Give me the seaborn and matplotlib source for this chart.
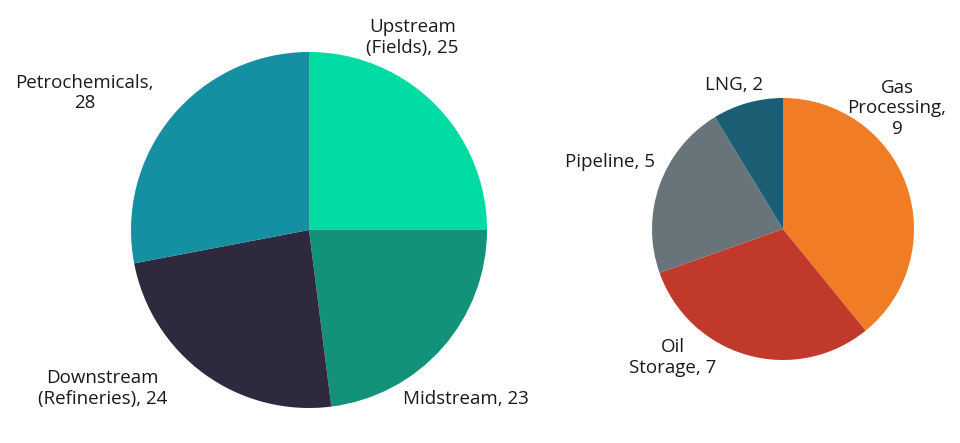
import seaborn as sns
import matplotlib.pyplot as plt

sns.set_theme(style='white')
plt.rcParams['font.family'] = ['Open Sans', 'DejaVu Sans']
plt.rcParams['font.size'] = 13.5

# left pie: oil & gas value chain
segments = ['Upstream\n(Fields)', 'Midstream', 'Downstream\n(Refineries)', 'Petrochemicals,\n']
segment_values = [25, 23, 24, 28]
segment_colors = ['#00DBA3', '#129279', '#2E293D', '#1490A2']

# right pie: midstream breakdown
mid_parts = ['Gas\nProcessing,\n', 'Oil\nStorage', 'Pipeline', 'LNG']
mid_values = [9, 7, 5, 2]
mid_colors = ['#F07C25', '#C1392B', '#69737A', '#1B5E73']

# label anchor positions (axes units, radius = 1)
left_label_pos = [(0.58, 1.08), (0.88, -0.95), (-1.16, -0.89), (-1.26, 0.77)]
right_label_pos = [(0.87, 0.92), (-0.84, -0.98), (-1.32, 0.51), (-0.37, 1.10)]

W, H = 960, 443
fig = plt.figure(figsize=(9.6, 4.43), dpi=100)


def draw_pie(cx, cy, r, names, values, colors, label_pos):
    ax = fig.add_axes([(cx - r) / W, (H - cy - r) / H, 2 * r / W, 2 * r / H])
    ax.pie(values, colors=sns.color_palette(colors), startangle=90,
           counterclock=False, radius=1,
           wedgeprops={'linewidth': 0})
    for name, v, (x, y) in zip(names, values, label_pos):
        sep = '' if name.endswith('\n') else ', '
        ax.text(x, y, f'{name}{sep}{v}', ha='center', va='center',
                fontsize=13.5, color='#1a1a1a', linespacing=1.2)
    ax.set_xlim(-1, 1)
    ax.set_ylim(-1, 1)
    ax.set_aspect('equal')
    ax.axis('off')
    return ax


draw_pie(309, 230, 178, segments, segment_values, segment_colors, left_label_pos)
draw_pie(783, 229, 131, mid_parts, mid_values, mid_colors, right_label_pos)

plt.savefig('out.png', dpi=100, facecolor='white')
